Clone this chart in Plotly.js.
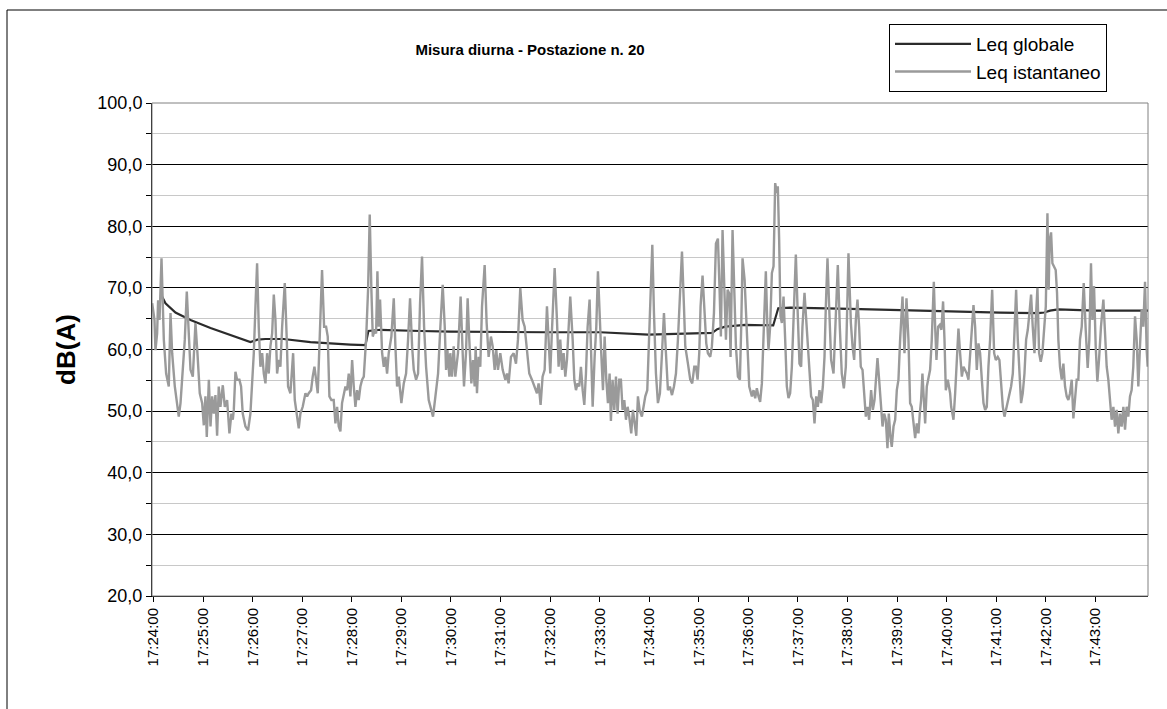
<!DOCTYPE html>
<html>
<head>
<meta charset="utf-8">
<script src="https://cdn.plot.ly/plotly-3.0.1.min.js"></script>
<style>
  html, body { margin: 0; padding: 0; background: #ffffff; }
  #chart { width: 1167px; height: 709px; }
</style>
</head>
<body>
<div id="chart"></div>
<script>
// ---- Data (seconds after 17:24:00, dB(A)) ----
const timeLabels = ['17:24:00','17:25:00','17:26:00','17:27:00','17:28:00','17:29:00','17:30:00',
  '17:31:00','17:32:00','17:33:00','17:34:00','17:35:00','17:36:00','17:37:00','17:38:00',
  '17:39:00','17:40:00','17:41:00','17:42:00','17:43:00'];

const tGlobale = [10, 14.5, 26.6, 44.8, 69.0, 93.1, 117.3, 125.8, 135.5, 157.3, 189.9, 238.3, 256.5,
  260.1, 274.6, 323.0, 359.3, 474.2, 540.7, 598.8, 635.1, 676.2, 682.3, 691.9, 716.1, 750.0, 756.1,
  770.6, 843.2, 897.6, 964.1, 1024.6, 1070.6, 1077.9, 1085.1, 1094.8, 1139.5, 1203.6];
const leqGlobale = [68.7, 67.5, 66.0, 64.8, 63.5, 62.3, 61.2, 61.6, 61.7, 61.7, 61.2, 60.8, 60.7,
  63.0, 63.2, 63.0, 62.9, 62.8, 62.8, 62.4, 62.5, 62.7, 63.3, 63.7, 64.0, 63.9, 66.7,
  66.8, 66.6, 66.4, 66.2, 66.0, 65.9, 66.0, 66.3, 66.5, 66.3, 66.3];

const tIstantaneo = [
  -1.6,1.2,2.4,4.4,5.6,7.3,9.7,11.3,12.5,15.3,18.5,20.6,22.6,25.8,28.6,30.6,32.7,35.5,37.9,40.3,
  42.7,44.8,47.6,50.8,53.2,56.0,58.9,60.9,62.9,64.5,67.0,69.0,71.0,73.0,75.0,77.0,79.0,81.0,83.9,86.3,
  89.1,91.9,94.3,96.0,97.2,99.2,101.2,104.0,106.0,108.0,111.3,114.5,117.3,
  119.4,121.4,123.4,125.4,127.4,129.4,131.5,133.5,135.5,137.5,139.5,141.5,143.6,145.6,147.6,149.6,
  151.6,153.6,155.7,158.9,161.3,162.9,165.7,169.0,171.0,173.8,175.8,177.8,180.6,183.9,185.9,187.9,
  190.7,192.7,194.8,196.8,198.8,200.8,204.0,206.5,208.9,210.9,212.9,215.3,218.1,220.2,222.2,224.2,
  226.2,228.2,230.2,232.3,234.3,236.3,238.3,
  240.4,242.4,244.4,246.4,248.4,250.4,252.5,254.5,257.3,259.7,261.7,263.7,265.4,267.8,269.4,271.0,
  272.6,274.2,276.7,278.7,280.7,282.7,284.7,287.9,290.8,292.8,294.8,296.8,300.0,302.9,305.7,308.1,
  310.5,313.0,315.0,317.8,320.2,322.6,325.0,327.5,329.9,333.1,336.3,338.3,341.2,344.4,347.2,350.0,
  352.5,354.1,355.7,358.1,
  359.2,361.3,363.3,365.3,368.5,371.7,374.2,375.8,378.2,380.2,382.2,384.7,386.7,388.7,389.9,391.5,
  393.5,395.5,397.6,400.8,403.2,405.6,408.4,410.5,412.9,414.9,416.9,419.7,422.6,425.8,427.8,429.8,
  432.6,435.9,438.7,441.1,443.9,446.7,449.2,452.0,454.8,458.0,461.3,464.1,466.1,468.5,470.9,473.4,
  476.2,478.2,480.2,
  482.3,485.5,488.3,490.3,492.3,494.4,496.4,498.4,500.4,502.4,504.4,507.3,509.3,511.3,513.3,515.3,
  517.3,519.4,521.4,523.4,525.4,527.8,529.4,531.5,533.9,535.9,537.9,539.9,541.9,544.0,546.0,548.0,
  550.0,552.0,553.6,555.6,557.7,559.7,561.7,563.7,565.7,567.7,569.8,571.8,573.8,575.8,578.2,580.2,
  582.3,584.3,586.3,588.3,591.1,593.1,595.2,597.6,599.6,601.2,
  603.7,605.7,608.1,610.5,612.9,615.4,617.8,620.2,622.6,625.0,627.5,629.9,632.3,634.7,637.1,639.6,
  642.0,643.6,646.8,649.6,652.0,654.5,656.5,658.5,660.5,662.1,664.5,667.0,669.0,671.0,673.8,675.8,
  678.3,680.7,683.1,685.1,686.7,688.7,690.8,692.8,694.8,696.8,698.4,700.8,702.9,704.9,707.3,709.7,
  711.3,712.9,715.4,718.2,721.0,
  724.2,726.2,728.2,730.2,732.2,734.2,736.3,738.3,741.1,742.7,744.3,746.3,748.4,750.4,752.4,754.4,
  755.6,757.2,758.8,760.5,762.5,764.5,766.5,768.5,770.5,772.6,775.0,777.4,779.8,781.8,783.8,785.4,
  787.9,790.7,793.5,795.9,798.0,800.0,802.0,804.0,806.0,808.0,810.1,812.1,813.7,815.7,817.7,820.1,
  823.0,825.0,828.2,830.6,833.0,835.5,837.9,841.1,
  844.0,846.0,848.0,850.0,852.0,854.0,856.0,858.1,860.1,862.1,864.1,866.1,868.5,870.6,872.6,874.2,
  876.2,878.2,880.2,882.3,884.3,886.3,888.3,889.9,891.9,893.5,895.6,897.6,899.6,901.6,903.6,906.5,
  908.9,911.3,913.7,915.7,917.7,919.8,921.8,923.8,925.8,927.4,929.0,930.6,932.3,933.9,935.9,937.9,
  939.9,941.9,944.4,946.0,947.6,949.6,951.6,953.6,955.6,957.3,958.9,961.3,964.1,
  965.4,968.2,970.2,972.2,974.2,976.2,978.3,980.3,982.3,984.3,986.3,988.3,990.4,992.4,994.4,996.4,
  998.4,1000.4,1002.5,1004.5,1006.5,1008.5,1010.5,1012.5,1015.0,1017.4,1019.4,1021.8,1023.8,1025.8,
  1027.9,1029.9,1031.9,1033.9,1035.9,1037.9,1040.0,1042.0,1044.0,1046.0,1048.0,1050.0,1052.0,1054.1,
  1056.1,1058.1,1060.1,1062.1,1064.1,1066.2,1067.8,1069.8,1071.8,1073.8,1075.8,1077.9,1079.9,1081.9,
  1083.4,1084.6,1086.3,1087.9,1089.9,1091.9,1093.5,1095.1,1097.1,1099.2,1101.2,1103.2,1105.2,1107.2,
  1109.2,1111.3,1113.3,1115.3,1117.3,1119.3,1121.3,1123.4,1125.8,1128.2,1130.6,1132.6,1134.6,1136.3,
  1138.3,1140.3,1142.3,1144.3,1146.7,1149.6,1151.6,1153.6,1155.6,1157.6,1159.6,1161.7,1163.7,1165.7,
  1167.7,1169.7,1171.7,1173.8,1175.8,1177.8,1179.8,1181.8,1183.8,1185.8,1187.9,1189.9,1191.9,1193.9,
  1195.9,1197.9,1200.0,1202.0,1203.2];

const leqIstantaneo = [
  67.5,64.8,59.9,62.6,68,64.8,74.8,68.6,61.6,56.1,54,65.9,59.4,54,51.3,49.1,51.3,56.1,61.6,69.4,
  62.1,56.7,55.6,64.3,59.4,52.9,51.3,47.7,52.4,45.8,55.1,47.5,52.4,49.6,52.6,46,54,50.7,54.2,50.7,
  51.8,46.4,49.6,48.6,50.2,56.4,55.1,55.1,54,49.6,47.5,46.9,49.6,
  54,59.4,67,74,63.6,57.2,59.4,56.1,54.5,59.4,56.1,60.5,62.6,68.9,64.8,56.1,
  58.3,57.2,63.7,70.8,61.6,54,52.9,59.4,51.8,48.6,47.2,49.6,50.7,52.9,52.4,52.9,
  53.4,55.6,57.2,55.1,52.9,60.5,72.9,63.7,63.7,62.1,52.4,51.8,51.8,48,50.7,47.5,
  46.7,51.3,52.4,54,53.4,56.1,52.4,
  58.3,54,50.7,53.4,51.8,54,55.1,55.6,61.6,69.7,81.9,69.7,62.1,63.2,62.6,72.7,
  63.7,68.1,59.4,57.2,58.8,56.1,59.4,62.1,68.3,60.5,54,55.6,51.3,54.5,56.1,61.6,
  68.3,60.5,56.7,55.1,56.1,67.5,75.1,63.7,57.2,51.8,50.2,49.1,52.4,56.1,63.7,70.5,
  63.7,56.7,59.9,55.6,
  59.4,55.6,60.5,55.6,59.4,68.6,59.4,54,59.4,68.3,61.6,54.5,58.3,54,60.5,52.9,
  58.8,57.2,67,73.7,64.3,58.8,62.1,60.5,56.7,59.9,56.7,59.4,56.7,55.1,56.1,54.5,
  58.8,59.4,57.7,61.6,70,64.8,63.7,59.4,56.1,55.1,54,52.9,54.5,51,55.6,56.7,
  67,61.6,56.1,
  63.2,73.2,64.8,57.2,61.6,56.7,59.4,55.6,58.3,63.7,68.6,61.6,55.1,53.4,54.5,54,
  57.2,53.4,51,56.1,63.7,68.1,61.6,50.7,58.8,63.7,72.7,64.3,59.4,53.4,62.1,55.1,
  51.3,56.1,48.4,55.1,50.2,55.6,49.6,55.1,55.1,50.2,51.8,48.6,50.7,49.1,46.4,50.2,
  47.5,46,52.4,50.2,49.1,50.7,52.4,53.4,61.6,68.1,
  77,65.9,56.1,51.3,52.9,59.4,65.9,59.4,53.4,54,52.6,54,56.1,61.6,69.7,75.9,
  67,60.5,57.7,55.1,54.5,57.2,57.2,55.1,59.4,67,72,65.9,61,59.4,58.8,60.5,
  65.9,77.2,78,69.7,62.1,79.4,69.7,61.6,69.7,69.1,58.8,79.4,69.7,60.5,55.6,55.1,
  63.7,74.8,71.3,61.6,54,
  52.4,53.4,52.1,53.7,52.4,51.5,54.5,63.7,72.7,64.8,59.9,63.7,72.4,73.5,87,85.4,
  86.5,77.8,65.4,64.3,68.6,61.6,54,52.1,52.9,57.2,67,75.4,65.4,57.7,57.2,63.7,
  69.2,62.6,56.1,52.4,51.8,48,52.4,50.7,53.4,51.3,54,58.8,67,74.8,67,58.3,
  56.1,63.7,73.7,63.7,56.1,53.7,57.2,75.6,
  64.3,60.5,58.3,64.8,68.1,63.7,57.2,56.7,52.9,49.1,50.7,48.6,53.4,50.2,51.8,54.5,
  58.6,55.1,50.7,47.5,49.6,48.6,44,49.6,45.8,44.2,47.5,48.6,53.4,55.1,61.6,68.6,
  59.4,68.3,61.6,51.3,50.7,47.5,45.6,48,46.4,49.6,51.8,56.1,50.7,48,54,55.1,
  56.7,61.6,71,63.7,58.3,63.7,64,63.2,67.8,61.6,53.4,55.1,52.9,
  50.7,48.6,52.9,57.2,63.4,59.4,55.6,57.2,56.7,56.1,55.1,59.4,63.7,67.2,63.7,56.7,
  61,59.4,55.1,51.3,50.2,50.7,57.2,61.6,69.7,59.4,58.3,58.8,58.3,55.1,
  50.7,49.1,50.2,51.8,52.4,54,56.1,62.6,69.7,61.6,55.1,51.3,52.9,56.1,
  61.6,63.2,65.9,68.9,63.7,59.4,64.8,70,59.4,58,59.4,62.6,67,82.1,
  69.7,77.8,79,74,73.5,72.9,69.2,61.6,57.2,55.1,57.7,54,52.4,51.8,
  52.9,55.1,48.8,51.8,55.1,55.1,61.6,63.7,70.8,63.2,57,61.6,74,64.8,
  70.3,60.5,54.8,58.3,63.7,68.1,62.6,57.2,55.1,51.8,48.6,50.7,47.5,50.2,
  46.4,49.6,47.5,50.7,47,50.7,49.1,52.4,53.4,57.2,65.4,61.6,54,60.5,
  66.4,63.7,71,59.9,57.2];

// ---- Chart ----
const W = 1167, H = 709;
const mL = 152, mR = 19, mT = 103, mB = 113;
const pw = W - mL - mR, ph = H - mT - mB;
const px2x = p => (p - mL) / pw;
const py2y = p => (H - mB - p) / ph;

const font = 'Liberation Sans, Arial, sans-serif';

const traces = [
  {
    x: tGlobale, y: leqGlobale, type: 'scatter', mode: 'lines', name: 'Leq globale',
    line: { color: '#2b2b2b', width: 2.2 }
  },
  {
    x: tIstantaneo, y: leqIstantaneo, type: 'scatter', mode: 'lines', name: 'Leq istantaneo',
    line: { color: '#9a9a9a', width: 2.4 }
  }
];

const layout = {
  width: W, height: H,
  margin: { l: mL, r: mR, t: mT, b: mB, pad: 0 },
  paper_bgcolor: '#ffffff', plot_bgcolor: '#ffffff',
  separators: ',.',
  font: { family: font, color: '#000000', size: 16 },
  showlegend: true,
  title: {
    text: '<b>Misura diurna - Postazione n. 20</b>',
    font: { family: font, size: 15, color: '#000' },
    xref: 'paper', x: px2x(530), xanchor: 'center',
    yref: 'container', y: 1 - 50 / H, yanchor: 'middle'
  },
  legend: {
    x: px2x(889), y: py2y(24), xanchor: 'left', yanchor: 'top',
    bgcolor: '#ffffff', bordercolor: '#000000', borderwidth: 1,
    font: { family: font, size: 19, color: '#000' },
    itemwidth: 76, tracegroupgap: 0
  },
  xaxis: {
    type: 'linear',
    range: [-1.8, 1203.6],
    tickmode: 'array',
    tickvals: timeLabels.map((_, i) => i * 60),
    ticktext: timeLabels,
    tickangle: -90,
    ticks: 'outside', ticklen: 5, tickcolor: '#000',
    tickfont: { family: font, size: 15, color: '#000' },
    showgrid: false, zeroline: false,
    showline: true, linecolor: '#000', linewidth: 1
  },
  yaxis: {
    range: [20, 100],
    dtick: 10, tick0: 0,
    tickformat: '.1f',
    ticks: 'outside', ticklen: 5, tickcolor: '#000',
    tickfont: { family: font, size: 18, color: '#000' },
    showgrid: true, gridcolor: '#000000', gridwidth: 1,
    minor: { dtick: 5, showgrid: true, gridcolor: '#c8c8c8', gridwidth: 1, ticks: 'outside', ticklen: 5, tickcolor: '#000' },
    zeroline: false,
    showline: true, linecolor: '#000', linewidth: 1,
    title: { text: '<b>dB(A)</b>', font: { family: font, size: 26, color: '#000' }, standoff: 14 }
  },
  shapes: [
    { type: 'rect', xref: 'paper', yref: 'paper', x0: 0, x1: 1, y0: 0, y1: 1,
      line: { color: '#808080', width: 1 }, fillcolor: 'rgba(0,0,0,0)', layer: 'above' },
    { type: 'line', xref: 'paper', yref: 'paper', x0: px2x(7), x1: px2x(1172), y0: py2y(10), y1: py2y(10),
      line: { color: '#000', width: 1 } },
    { type: 'line', xref: 'paper', yref: 'paper', x0: px2x(7), x1: px2x(7), y0: py2y(10), y1: py2y(715),
      line: { color: '#000', width: 1 } }
  ]
};

Plotly.newPlot('chart', traces, layout, { displayModeBar: false, staticPlot: true });
</script>
</body>
</html>
